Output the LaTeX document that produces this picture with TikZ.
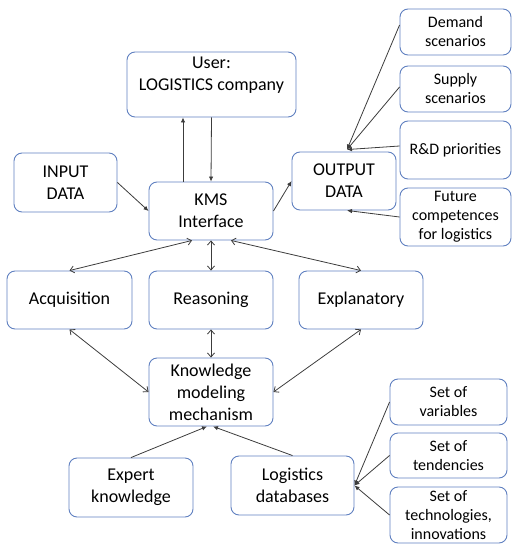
\documentclass[tikz,border=0pt]{standalone}
\usepackage{fontspec}
\setmainfont{Carlito}
\usetikzlibrary{arrows.meta}
\definecolor{BoxBlue}{RGB}{96,128,192}
\definecolor{ArrowGray}{RGB}{60,60,60}
\tikzset{Box/.style={draw=BoxBlue, line width=0.9pt, rounded corners=8pt, align=center,
    inner sep=0pt, font=\fontsize{18}{22}\selectfont}}
\tikzset{SmallBox/.style={Box, font=\fontsize{16}{19}\selectfont}}
\tikzset{Fwd/.style={draw=ArrowGray, line width=0.8pt, -{Latex[length=5pt,width=4.5pt]}}}
\tikzset{Both/.style={draw=ArrowGray, line width=0.8pt, {Straight Barb[length=4pt,width=7pt]}-{Straight Barb[length=4pt,width=7pt]}}}

\begin{document}
\begin{tikzpicture}[x=1pt,y=-1pt]
\useasboundingbox (0,0) rectangle (513,544);
\node[Box, minimum width=169pt, minimum height=65pt] (user) at (211.5,84.5) {User:\\LOGISTICS company\\[-8pt]\strut};
\node[Box, minimum width=103pt, minimum height=59pt] (input) at (65.5,182.5) {INPUT\\DATA};
\node[Box, minimum width=124pt, minimum height=58pt] (kms) at (211,211) {KMS\\Interface};
\node[Box, minimum width=104pt, minimum height=58pt] (output) at (344,181) {OUTPUT\\DATA};
\node[SmallBox, minimum width=111pt, minimum height=46pt] (demand) at (455.5,32) {Demand\\scenarios};
\node[SmallBox, minimum width=111pt, minimum height=46pt] (supply) at (455.5,89) {Supply\\scenarios};
\node[SmallBox, minimum width=111pt, minimum height=58pt] (rnd) at (455.5,150) {R\&D priorities};
\node[SmallBox, minimum width=111pt, minimum height=58pt] (future) at (455.5,217) {Future\\competences\\for logistics};
\node[Box, minimum width=125pt, minimum height=58pt] (acq) at (69.5,300) {Acquisition};
\node[Box, minimum width=124pt, minimum height=58pt] (reas) at (211,300) {Reasoning};
\node[Box, minimum width=124pt, minimum height=58pt] (expl) at (361,300) {Explanatory};
\node[Box, minimum width=124pt, minimum height=68pt] (kmm) at (211,392) {Knowledge\\modeling\\mechanism};
\node[Box, minimum width=124pt, minimum height=59pt] (expert) at (131,487.5) {Expert\\knowledge};
\node[Box, minimum width=123pt, minimum height=59pt] (logdb) at (292.5,485.5) {Logistics\\databases};
\node[SmallBox, minimum width=117pt, minimum height=46pt] (vars) at (448.5,402) {Set of\\variables};
\node[SmallBox, minimum width=117pt, minimum height=45pt] (tend) at (448.5,455.5) {Set of\\tendencies};
\node[SmallBox, minimum width=117pt, minimum height=56pt] (tech) at (448.5,515) {Set of\\technologies,\\innovations};

% user <-> interface
\draw[Fwd] ([xshift=-28pt]kms.north) -- ([xshift=-28.5pt]user.south);
\draw[Fwd] (user.south) -- (kms.north);
\draw[Fwd] (input.east) -- (kms.west);
\draw[Fwd] (kms.east) -- (output.west);

% outputs
\coordinate (outtop) at ([xshift=3pt,yshift=2pt]output.north);
\draw[Fwd] ([yshift=7pt]demand.west) -- (outtop);
\draw[Fwd] ([yshift=2pt]supply.west) -- (outtop);
\draw[Fwd] ([yshift=4pt]rnd.west) -- (outtop);
\draw[Fwd] (future.west) -- ([xshift=3pt]output.south);

% modules
\draw[Both] ([xshift=-19pt]kms.south) -- (acq.north);
\draw[Both] (kms.south) -- (reas.north);
\draw[Both] ([xshift=20pt]kms.south) -- (expl.north);
\draw[Both] (acq.south) -- (kmm.west);
\draw[Both] (reas.south) -- (kmm.north);
\draw[Both] (expl.south) -- (kmm.east);

% knowledge sources
\draw[Fwd] (expert.north) -- ([xshift=-4pt]kmm.south);
\draw[Fwd] (logdb.north) -- ([xshift=2pt]kmm.south);
\draw[Fwd] (vars.west) -- (logdb.east);
\draw[Fwd] (tend.west) -- (logdb.east);
\draw[Fwd] (tech.west) -- (logdb.east);
\end{tikzpicture}
\end{document}
